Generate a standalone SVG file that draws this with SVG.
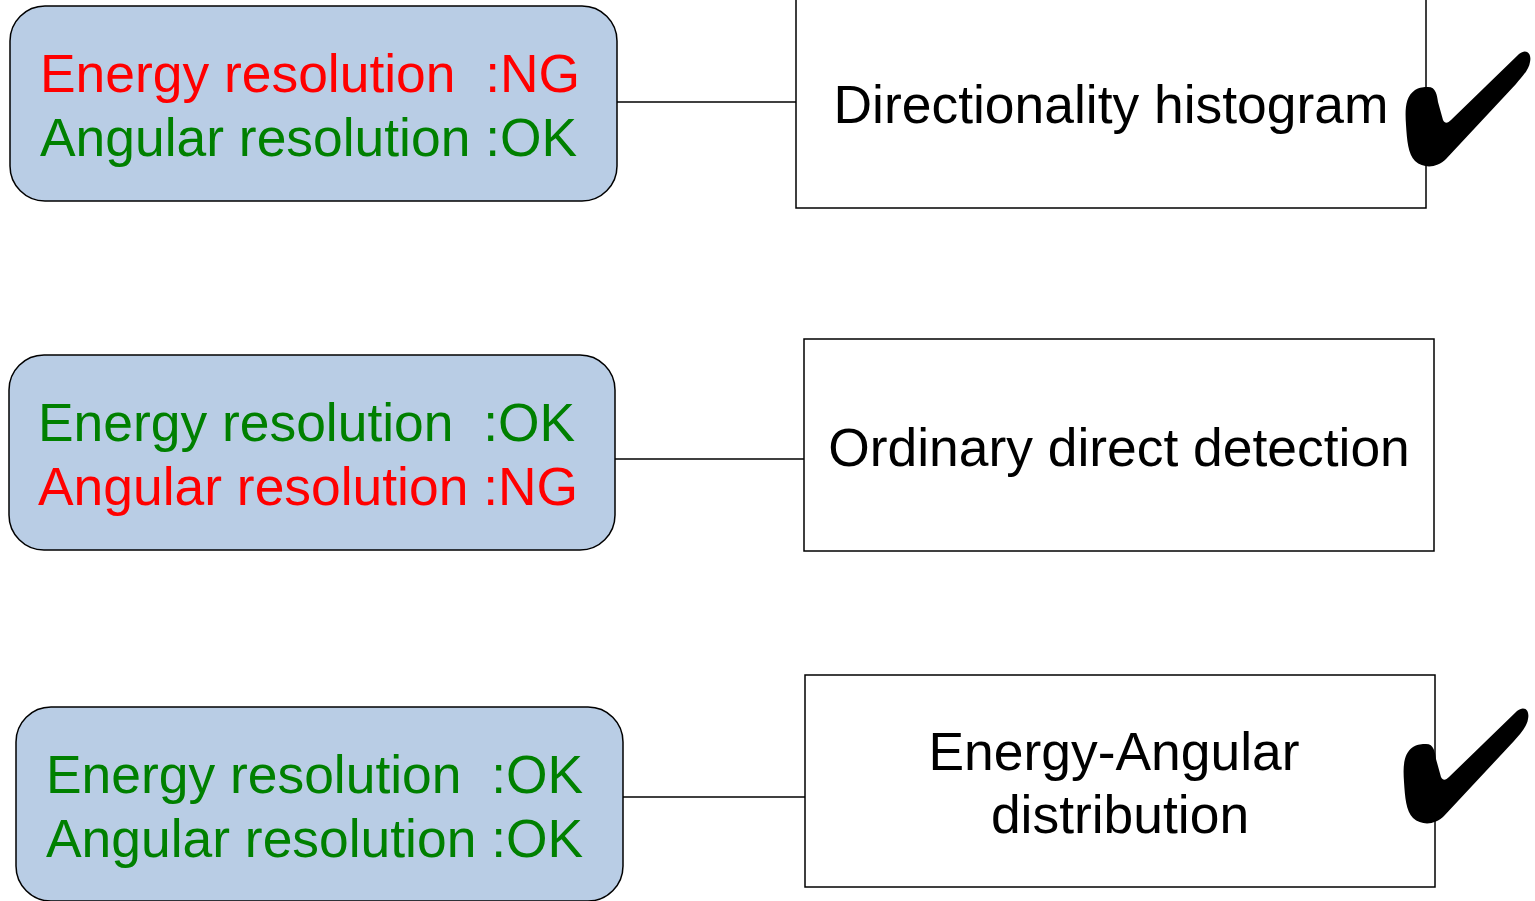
<svg xmlns="http://www.w3.org/2000/svg" width="1535" height="901" viewBox="0 0 1535 901">
<style>
.lbox{fill:#b9cde5;stroke:#000;stroke-width:1.5}
.rbox{fill:#fff;stroke:#000;stroke-width:1.5}
.t{font-family:"Liberation Sans",Arial,sans-serif;font-size:53.4px}
.red{fill:#ff0000}
.grn{fill:#008000}
.blk{fill:#000}
.conn line{stroke:#000;stroke-width:1.5}
</style>
<defs>
<path id="check" d="M1428,87 C1436,87 1437,95 1438,102 L1443,120 C1445,124 1448,123 1451,120 L1519,54 C1526,48 1532,53 1530,62 C1529,70 1521,78 1516,84 L1446,159 C1437,168 1424,169 1415,161 C1408,154 1407,140 1406,125 C1405,110 1405,97 1415,90 C1420,87 1424,87 1428,87 Z" fill="#000"/>
</defs>
<rect width="1535" height="901" fill="#fff"/>
<g class="conn">
<line x1="617" y1="102" x2="796" y2="102"/>
<line x1="615" y1="459" x2="804" y2="459"/>
<line x1="623" y1="797" x2="805" y2="797"/>
</g>
<g id="left1">
<rect class="lbox" x="10" y="6" width="607" height="195" rx="35"/>
<text class="t red" x="40" y="92" xml:space="preserve">Energy resolution  :NG</text>
<text class="t grn" x="40" y="156">Angular resolution :OK</text>
</g>
<g id="left2">
<rect class="lbox" x="9" y="355" width="606" height="195" rx="35"/>
<text class="t grn" x="38" y="441" xml:space="preserve">Energy resolution  :OK</text>
<text class="t red" x="38" y="505">Angular resolution :NG</text>
</g>
<g id="left3">
<rect class="lbox" x="16" y="707" width="607" height="194" rx="35"/>
<text class="t grn" x="46" y="793" xml:space="preserve">Energy resolution  :OK</text>
<text class="t grn" x="46" y="857">Angular resolution :OK</text>
</g>
<g id="right1">
<rect class="rbox" x="796" y="-10" width="630" height="218"/>
<text class="t blk" x="1111" y="123" text-anchor="middle">Directionality histogram</text>
</g>
<g id="right2">
<rect class="rbox" x="804" y="339" width="630" height="212"/>
<text class="t blk" x="1119" y="466" text-anchor="middle">Ordinary direct detection</text>
</g>
<g id="right3">
<rect class="rbox" x="805" y="675" width="630" height="212"/>
<text class="t blk" x="1114" y="770" text-anchor="middle">Energy-Angular</text>
<text class="t blk" x="1120" y="833" text-anchor="middle">distribution</text>
</g>
<g id="checks">
<use href="#check"/>
<use href="#check" transform="translate(-2,657)"/>
</g>
</svg>
